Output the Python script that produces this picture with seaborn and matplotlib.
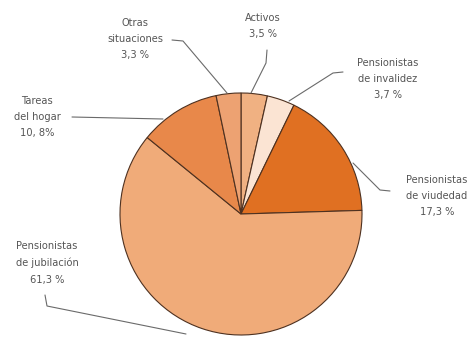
import matplotlib
matplotlib.use("Agg")
import matplotlib.pyplot as plt
import seaborn as sns

sns.set_theme(style="white")
plt.rcParams['font.family'] = ['DejaVu Sans']

categories = ["Activos", "Pensionistas\nde invalidez", "Pensionistas\nde viudedad",
              "Pensionistas\nde jubilación", "Tareas\ndel hogar", "Otras\nsituaciones"]
values = [3.5, 3.7, 17.3, 61.3, 10.8, 3.3]
value_labels = ["3,5 %", "3,7 %", "17,3 %", "61,3 %", "10, 8%", "3,3 %"]
colors = ["#F0B182", "#FBE4D3", "#E07022", "#F0AB79", "#E8884A", "#EDA272"]

W, H = 467, 340
fig = plt.figure(figsize=(W / 100, H / 100), dpi=100)
ax = fig.add_axes([0, 0, 1, 1])


def P(x, y):
    # convert image pixel coords (y down) to data coords (y up)
    return x, H - y


cx, cy, r = 241, 214, 121
wedges, _ = ax.pie(values, colors=colors, startangle=90, counterclock=False,
                   center=P(cx, cy), radius=r, frame=True,
                   wedgeprops=dict(edgecolor="#4e3120", linewidth=0.8))
ax.set_xlim(0, W)
ax.set_ylim(0, H)
ax.set_aspect("equal")
ax.set_axis_off()

label_pos = [(263, 26), (388, 79), (437, 196), (47, 263), (37, 117), (135, 39)]
leaders = [
    [(267, 50), (266, 63), (251, 93)],
    [(343, 72), (333, 73), (289, 101)],
    [(353, 163), (380, 190), (390, 191)],
    [(45, 295), (47, 306), (186, 334)],
    [(72, 117), (163, 119)],
    [(172, 40), (183, 41), (227, 93)],
]

for cat, val, (x, y), pts in zip(categories, value_labels, label_pos, leaders):
    ax.text(*P(x, y), f"{cat}\n{val}", ha="center", va="center", fontsize=7.1,
            color="#555555", linespacing=1.8)
    xs = [p[0] for p in pts]
    ys = [H - p[1] for p in pts]
    ax.plot(xs, ys, color="#6a6a6a", linewidth=0.8, solid_capstyle="round")

fig.savefig("out.png", dpi=100)
